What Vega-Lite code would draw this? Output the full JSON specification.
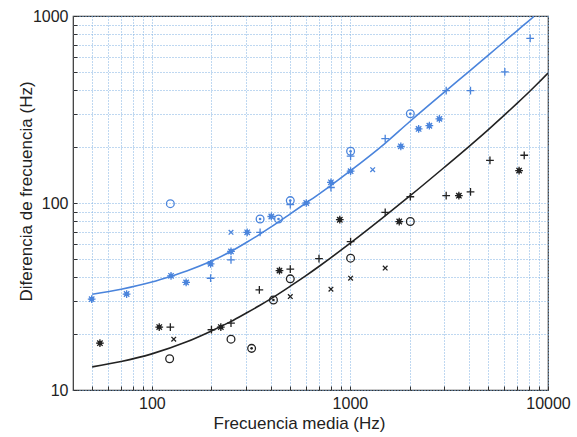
{
  "$schema": "https://vega.github.io/schema/vega-lite/v6.json",
  "width": 475,
  "height": 374,
  "autosize": {"type": "none"},
  "padding": {"left": 73, "top": 16, "right": 29, "bottom": 47},
  "background": "white",
  "config": {
    "font": "Liberation Sans",
    "view": {"stroke": "#333333", "strokeWidth": 1.2},
    "axis": {
      "grid": true,
      "gridColor": "#7fb0e3",
      "gridDash": [1, 2],
      "gridWidth": 1,
      "domain": false,
      "tickColor": "#333333",
      "labelFont": "Liberation Sans",
      "labelFontSize": 16,
      "labelColor": "#222222",
      "labelOverlap": false,
      "labelFlush": false,
      "titleFont": "Liberation Sans",
      "titleFontSize": 17,
      "titleFontWeight": "normal",
      "titleColor": "#222222"
    }
  },
  "datasets": {
    "points": [
      {"series": "blue", "marker": "star", "x": 49.7, "y": 30.6},
      {"series": "blue", "marker": "star", "x": 74.6, "y": 32.6},
      {"series": "blue", "marker": "circle", "x": 124, "y": 99.2},
      {"series": "blue", "marker": "star", "x": 125, "y": 40.8},
      {"series": "blue", "marker": "star", "x": 149, "y": 37.6},
      {"series": "blue", "marker": "star", "x": 198, "y": 47.3},
      {"series": "blue", "marker": "plus", "x": 198, "y": 39.6},
      {"series": "blue", "marker": "star", "x": 251, "y": 55.1},
      {"series": "blue", "marker": "plus", "x": 251, "y": 49.7},
      {"series": "blue", "marker": "x", "x": 251, "y": 69.7},
      {"series": "blue", "marker": "star", "x": 303, "y": 69.7},
      {"series": "blue", "marker": "plus", "x": 352, "y": 69.7},
      {"series": "blue", "marker": "bullseye", "x": 352, "y": 82.1},
      {"series": "blue", "marker": "star", "x": 401, "y": 84.7},
      {"series": "blue", "marker": "bullseye", "x": 436, "y": 82.1},
      {"series": "blue", "marker": "bullseye", "x": 500, "y": 103},
      {"series": "blue", "marker": "plus", "x": 500, "y": 98},
      {"series": "blue", "marker": "star", "x": 602, "y": 100},
      {"series": "blue", "marker": "star", "x": 802, "y": 129},
      {"series": "blue", "marker": "plus", "x": 802, "y": 121},
      {"series": "blue", "marker": "bullseye", "x": 1008, "y": 189},
      {"series": "blue", "marker": "plus", "x": 1008, "y": 178},
      {"series": "blue", "marker": "star", "x": 1008, "y": 148},
      {"series": "blue", "marker": "x", "x": 1303, "y": 150.7},
      {"series": "blue", "marker": "plus", "x": 1507, "y": 221},
      {"series": "blue", "marker": "star", "x": 1807, "y": 201},
      {"series": "blue", "marker": "bullseye", "x": 2018, "y": 300},
      {"series": "blue", "marker": "star", "x": 2223, "y": 249},
      {"series": "blue", "marker": "star", "x": 2518, "y": 259},
      {"series": "blue", "marker": "star", "x": 2830, "y": 282},
      {"series": "blue", "marker": "plus", "x": 3062, "y": 399},
      {"series": "blue", "marker": "plus", "x": 4063, "y": 399},
      {"series": "blue", "marker": "plus", "x": 6055, "y": 503},
      {"series": "blue", "marker": "plus", "x": 8128, "y": 759},
      {"series": "black", "marker": "star", "x": 54.7, "y": 17.8},
      {"series": "black", "marker": "star", "x": 109, "y": 21.7},
      {"series": "black", "marker": "plus", "x": 124, "y": 21.7},
      {"series": "black", "marker": "x", "x": 129, "y": 18.7},
      {"series": "black", "marker": "circle", "x": 123, "y": 14.7},
      {"series": "black", "marker": "plus", "x": 200, "y": 21.0},
      {"series": "black", "marker": "star", "x": 223, "y": 21.7},
      {"series": "black", "marker": "plus", "x": 251, "y": 22.8},
      {"series": "black", "marker": "circle", "x": 251, "y": 18.7},
      {"series": "black", "marker": "bullseye", "x": 319, "y": 16.7},
      {"series": "black", "marker": "plus", "x": 349, "y": 34.3},
      {"series": "black", "marker": "bullseye", "x": 411, "y": 30.3},
      {"series": "black", "marker": "star", "x": 441, "y": 43.5},
      {"series": "black", "marker": "plus", "x": 500, "y": 44.3},
      {"series": "black", "marker": "circle", "x": 500, "y": 39.3},
      {"series": "black", "marker": "x", "x": 500, "y": 31.6},
      {"series": "black", "marker": "plus", "x": 698, "y": 50.4},
      {"series": "black", "marker": "x", "x": 802, "y": 34.6},
      {"series": "black", "marker": "star", "x": 889, "y": 81.4},
      {"series": "black", "marker": "plus", "x": 1008, "y": 62.2},
      {"series": "black", "marker": "circle", "x": 1008, "y": 50.7},
      {"series": "black", "marker": "x", "x": 1008, "y": 39.6},
      {"series": "black", "marker": "x", "x": 1507, "y": 44.9},
      {"series": "black", "marker": "plus", "x": 1507, "y": 89.1},
      {"series": "black", "marker": "star", "x": 1774, "y": 79.6},
      {"series": "black", "marker": "circle", "x": 2018, "y": 79.6},
      {"series": "black", "marker": "plus", "x": 2018, "y": 108},
      {"series": "black", "marker": "plus", "x": 3062, "y": 109.4},
      {"series": "black", "marker": "star", "x": 3548, "y": 109.4},
      {"series": "black", "marker": "plus", "x": 4063, "y": 114.6},
      {"series": "black", "marker": "plus", "x": 5093, "y": 169},
      {"series": "black", "marker": "star", "x": 7145, "y": 149},
      {"series": "black", "marker": "plus", "x": 7585, "y": 180}
    ],
    "curves": [
      {"series": "blue", "x": 50, "y": 32.5},
      {"series": "blue", "x": 70, "y": 34.6},
      {"series": "blue", "x": 100, "y": 37.8},
      {"series": "blue", "x": 125, "y": 40.6},
      {"series": "blue", "x": 150, "y": 43.3},
      {"series": "blue", "x": 200, "y": 48.9},
      {"series": "blue", "x": 250, "y": 55},
      {"series": "blue", "x": 300, "y": 61.5},
      {"series": "blue", "x": 350, "y": 68},
      {"series": "blue", "x": 400, "y": 74.5},
      {"series": "blue", "x": 500, "y": 87.5},
      {"series": "blue", "x": 600, "y": 100},
      {"series": "blue", "x": 700, "y": 112},
      {"series": "blue", "x": 800, "y": 124},
      {"series": "blue", "x": 1000, "y": 148},
      {"series": "blue", "x": 1500, "y": 208},
      {"series": "blue", "x": 2000, "y": 272},
      {"series": "blue", "x": 3000, "y": 392},
      {"series": "blue", "x": 4000, "y": 506},
      {"series": "blue", "x": 5000, "y": 618},
      {"series": "blue", "x": 6000, "y": 728},
      {"series": "blue", "x": 7000, "y": 836},
      {"series": "blue", "x": 8000, "y": 943},
      {"series": "blue", "x": 8500, "y": 995},
      {"series": "black", "x": 50, "y": 13.3},
      {"series": "black", "x": 70, "y": 14.2},
      {"series": "black", "x": 100, "y": 15.6},
      {"series": "black", "x": 150, "y": 18.1},
      {"series": "black", "x": 200, "y": 20.7},
      {"series": "black", "x": 250, "y": 23.2},
      {"series": "black", "x": 300, "y": 25.8},
      {"series": "black", "x": 350, "y": 28.3},
      {"series": "black", "x": 400, "y": 30.8},
      {"series": "black", "x": 500, "y": 35.9},
      {"series": "black", "x": 600, "y": 40.9},
      {"series": "black", "x": 700, "y": 45.9},
      {"series": "black", "x": 800, "y": 50.9},
      {"series": "black", "x": 1000, "y": 60.8},
      {"series": "black", "x": 1500, "y": 85.1},
      {"series": "black", "x": 2000, "y": 108.7},
      {"series": "black", "x": 3000, "y": 155.3},
      {"series": "black", "x": 4000, "y": 201},
      {"series": "black", "x": 5000, "y": 247},
      {"series": "black", "x": 6000, "y": 294},
      {"series": "black", "x": 7000, "y": 342},
      {"series": "black", "x": 8000, "y": 391},
      {"series": "black", "x": 9000, "y": 442},
      {"series": "black", "x": 10000, "y": 495}
    ]
  },
  "layer": [
    {
      "data": {"name": "curves"},
      "mark": {"type": "line", "strokeWidth": 1.6, "interpolate": "monotone", "clip": true},
      "encoding": {
        "x": {
          "field": "x", "type": "quantitative",
          "scale": {"type": "log", "domain": [40, 10000], "nice": false},
          "axis": {
            "title": "Frecuencia media (Hz)",
            "titlePadding": 4,
            "titleX": 226,
            "values": [50,60,70,80,90,100,200,300,400,500,600,700,800,900,1000,2000,3000,4000,5000,6000,7000,8000,9000,10000],
            "format": "d",
            "labelExpr": "(datum.value == 100 || datum.value == 1000 || datum.value == 10000) ? datum.label : ''",
            "tickSize": -4,
            "labelPadding": 9
          }
        },
        "y": {
          "field": "y", "type": "quantitative",
          "scale": {"type": "log", "domain": [10, 1000], "nice": false},
          "axis": {
            "title": "Diferencia de frecuencia (Hz)",
            "titlePadding": -3,
            "titleY": 175,
            "values": [10,20,30,40,50,60,70,80,90,100,200,300,400,500,600,700,800,900,1000],
            "format": "d",
            "labelExpr": "(datum.value == 10 || datum.value == 100 || datum.value == 1000) ? datum.label : ''",
            "tickSize": -4,
            "labelPadding": 9
          }
        },
        "color": {
          "field": "series", "type": "nominal",
          "scale": {"domain": ["blue", "black"], "range": ["#4a84dc", "#222222"]},
          "legend": null
        }
      }
    },
    {
      "data": {"name": "points"},
      "mark": {"type": "point", "filled": false, "strokeWidth": 1.3, "size": 60, "opacity": 1},
      "encoding": {
        "x": {"field": "x", "type": "quantitative"},
        "y": {"field": "y", "type": "quantitative"},
        "shape": {
          "field": "marker", "type": "nominal",
          "scale": {
            "domain": ["circle", "plus", "x", "star", "bullseye"],
            "range": ["circle", "M-1,0L1,0M0,-1L0,1", "M-0.6,-0.6L0.6,0.6M-0.6,0.6L0.6,-0.6", "M-1,0L1,0M0,-1L0,1M-0.7,-0.7L0.7,0.7M-0.7,0.7L0.7,-0.7", "circle"]
          },
          "legend": null
        },
        "color": {
          "field": "series", "type": "nominal",
          "scale": {"domain": ["blue", "black"], "range": ["#3566cf", "#222222"]},
          "legend": null
        }
      }
    },
    {
      "data": {"name": "points"},
      "transform": [{"filter": "datum.marker == 'star'"}],
      "mark": {"type": "point", "filled": true, "shape": "circle", "size": 22, "opacity": 1},
      "encoding": {
        "x": {"field": "x", "type": "quantitative"},
        "y": {"field": "y", "type": "quantitative"},
        "color": {"field": "series", "type": "nominal", "legend": null}
      }
    },
    {
      "data": {"name": "points"},
      "transform": [{"filter": "datum.marker == 'bullseye'"}],
      "mark": {"type": "point", "filled": true, "shape": "circle", "size": 7, "opacity": 1},
      "encoding": {
        "x": {"field": "x", "type": "quantitative"},
        "y": {"field": "y", "type": "quantitative"},
        "color": {"field": "series", "type": "nominal", "legend": null}
      }
    }
  ]
}
